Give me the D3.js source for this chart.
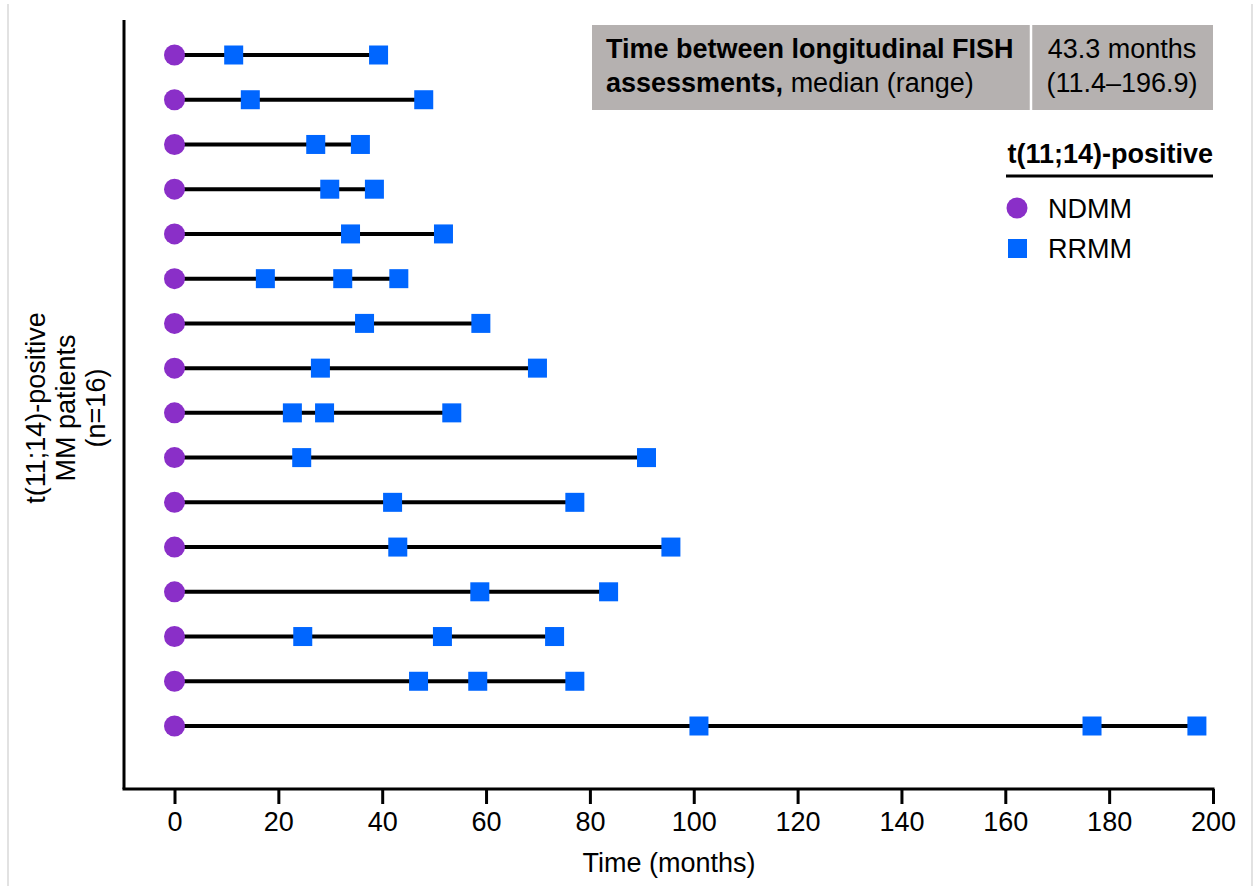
<!DOCTYPE html>
<html>
<head>
<meta charset="utf-8">
<script src="https://cdn.jsdelivr.net/npm/d3@7"></script>
<style>
  html, body { margin: 0; padding: 0; background: #fff; }
  svg { display: block; font-family: "Liberation Sans", Arial, sans-serif; }
</style>
</head>
<body>
<svg id="chart" width="1255" height="886"></svg>
<script>
// patients top to bottom, each starts at 0 (NDMM), then RRMM assessments
const patients = d3.range(1, 17);
const rrmmTimes = [
  [11.4, 39.3],
  [14.6, 48.0],
  [27.2, 35.8],
  [29.9, 38.5],
  [33.9, 51.8],
  [17.5, 32.4, 43.2],
  [36.6, 59.0],
  [28.1, 69.9],
  [22.7, 28.9, 53.4],
  [24.5, 90.9],
  [42.0, 77.1],
  [43.0, 95.6],
  [58.8, 83.6],
  [24.7, 51.6, 73.2],
  [47.0, 58.4, 77.1],
  [101.0, 176.7, 196.9]
];
const xTicks = d3.range(0, 201, 20);

const svg = d3.select('#chart');
const purple = '#8a2fc8';
const blue = '#0066ff';
const fs = 27;

const x = d3.scaleLinear().domain([0, 200]).range([174.5, 1213]);
const y = d3.scalePoint().domain(patients).range([55, 726]);

// faint frame edges of the source image
[8, 1252].forEach(px => {
  svg.append('line')
    .attr('x1', px).attr('x2', px).attr('y1', 4).attr('y2', 886)
    .attr('stroke', '#d9d9d9').attr('stroke-width', 1.5);
});

// ─── Axes ─────────────────────────────────────────────────────────────────────

svg.append('line')
  .attr('x1', 124).attr('x2', 124).attr('y1', 20).attr('y2', 789)
  .attr('stroke', '#000').attr('stroke-width', 3);

const xAxis = svg.append('g')
  .attr('transform', 'translate(0,789)')
  .call(d3.axisBottom(x).tickValues(xTicks).tickSize(15).tickPadding(8).tickSizeOuter(0));
xAxis.select('.domain').remove();
xAxis.selectAll('.tick line').attr('stroke', '#000').attr('stroke-width', 3);
xAxis.selectAll('.tick text')
  .attr('font-size', fs).attr('fill', '#000')
  .attr('font-family', '"Liberation Sans", Arial, sans-serif');

svg.append('line')
  .attr('x1', 122.5).attr('x2', x(200) + 1.5).attr('y1', 789).attr('y2', 789)
  .attr('stroke', '#000').attr('stroke-width', 3);

svg.append('text')
  .attr('x', 669).attr('y', 872)
  .attr('text-anchor', 'middle').attr('font-size', fs)
  .text('Time (months)');

const yLab = svg.append('text')
  .attr('transform', 'translate(65,408) rotate(-90)')
  .attr('text-anchor', 'middle').attr('font-size', fs);
['t(11;14)-positive', 'MM patients', '(n=16)'].forEach((t, i) => {
  yLab.append('tspan').attr('x', 0).attr('y', (i - 1) * 30 + 10).text(t);
});

// ─── Rows ─────────────────────────────────────────────────────────────────────

const rows = svg.append('g').selectAll('g')
  .data(patients.map((p, i) => ({ id: p, times: rrmmTimes[i] })))
  .join('g');

rows.append('line')
  .attr('x1', x(0))
  .attr('x2', d => x(d3.max(d.times)))
  .attr('y1', d => y(d.id)).attr('y2', d => y(d.id))
  .attr('stroke', '#000').attr('stroke-width', 4);

rows.append('circle')
  .attr('cx', x(0)).attr('cy', d => y(d.id)).attr('r', 10.5)
  .attr('fill', purple);

const sq = 19;
rows.selectAll('rect')
  .data(d => d.times.map(t => ({ t, id: d.id })))
  .join('rect')
  .attr('x', d => x(d.t) - sq / 2)
  .attr('y', d => y(d.id) - sq / 2)
  .attr('width', sq).attr('height', sq)
  .attr('fill', blue);

// ─── Summary box ──────────────────────────────────────────────────────────────

svg.append('rect')
  .attr('x', 592).attr('y', 25).attr('width', 621).attr('height', 85)
  .attr('fill', '#b5b1b0');
svg.append('line')
  .attr('x1', 1031).attr('x2', 1031).attr('y1', 25).attr('y2', 110)
  .attr('stroke', '#fff').attr('stroke-width', 2.5);

const boxL = svg.append('text').attr('font-size', fs).attr('fill', '#000');
boxL.append('tspan').attr('x', 606).attr('y', 58).attr('font-weight', 'bold')
  .text('Time between longitudinal FISH');
const l2 = boxL.append('tspan').attr('x', 606).attr('y', 92);
l2.append('tspan').attr('font-weight', 'bold').text('assessments,');
l2.append('tspan').text(' median (range)');

const boxR = svg.append('text').attr('font-size', fs).attr('text-anchor', 'middle');
boxR.append('tspan').attr('x', 1122).attr('y', 58).text('43.3 months');
boxR.append('tspan').attr('x', 1122).attr('y', 92).text('(11.4–196.9)');

// ─── Legend ───────────────────────────────────────────────────────────────────

svg.append('text')
  .attr('x', 1213).attr('y', 163).attr('text-anchor', 'end')
  .attr('font-size', fs).attr('font-weight', 'bold')
  .text('t(11;14)-positive');
svg.append('line')
  .attr('x1', 1006).attr('x2', 1213).attr('y1', 176).attr('y2', 176)
  .attr('stroke', '#000').attr('stroke-width', 3);

svg.append('circle').attr('cx', 1017).attr('cy', 208).attr('r', 10.5).attr('fill', purple);
svg.append('text').attr('x', 1048).attr('y', 218).attr('font-size', fs).text('NDMM');
svg.append('rect').attr('x', 1008).attr('y', 239).attr('width', 19).attr('height', 19).attr('fill', blue);
svg.append('text').attr('x', 1048).attr('y', 258).attr('font-size', fs).text('RRMM');
</script>
</body>
</html>
